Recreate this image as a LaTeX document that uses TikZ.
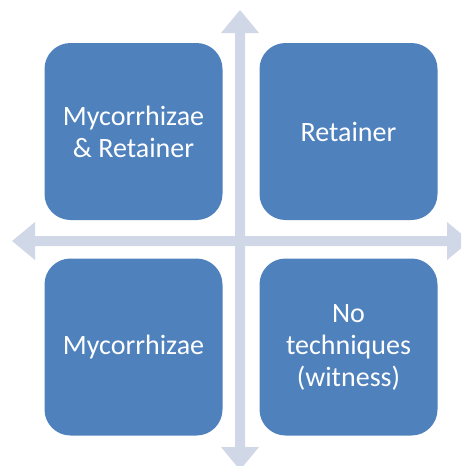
\documentclass[tikz,border=0pt]{standalone}
\usepackage{fontspec}
\setmainfont{Carlito}
\definecolor{tileblue}{HTML}{4F81BD}
\definecolor{axisblue}{HTML}{D0D8E8}
\begin{document}
\begin{tikzpicture}[x=1pt,y=-1pt,
  tile/.style={fill=tileblue, draw=none, rounded corners=26pt,
    minimum width=178pt, minimum height=177pt, inner sep=0pt,
    text=white, align=center,
    font=\fontsize{28}{32}\selectfont},
  axis/.style={fill=axisblue, draw=none}]
  \useasboundingbox (0,0) rectangle (461,466);
  \clip (0,0) rectangle (461,466);
  % horizontal double-headed axis
  \fill[axis] (12,241) -- (35,222) -- (35,236) -- (447,236) -- (447,222)
    -- (470,241) -- (447,260) -- (447,246) -- (35,246) -- (35,260) -- cycle;
  % vertical double-headed axis
  \fill[axis] (240,10) -- (259,33) -- (245,33) -- (245,447) -- (259,447)
    -- (240,470) -- (221,447) -- (235,447) -- (235,33) -- (221,33) -- cycle;
  % quadrant tiles
  \node[tile] (tl) at (133.5,131.5) {Mycorrhizae\\\& Retainer};
  \node[tile] (tr) at (348.5,131.5) {Retainer};
  \node[tile] (bl) at (133.5,347) {Mycorrhizae};
  \node[tile] (br) at (348.5,347) {No\\techniques\\(witness)};
\end{tikzpicture}
\end{document}
